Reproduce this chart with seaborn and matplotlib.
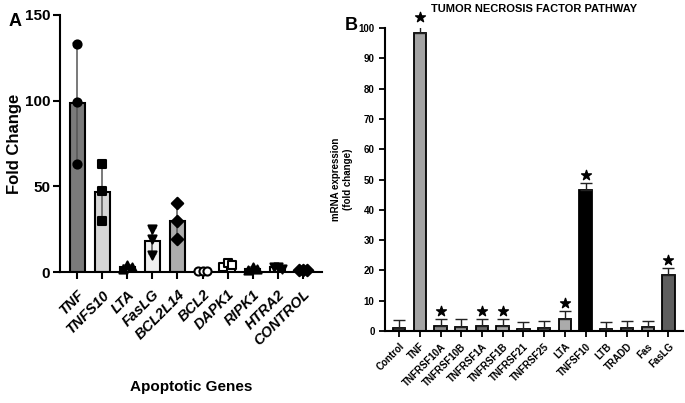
import numpy as np
import pandas as pd
import seaborn as sns
import matplotlib.pyplot as plt

# panel A: apoptotic genes, three replicates each
genes_a = ["TNF", "TNFS10", "LTA", "FasLG", "BCL2L14", "BCL2", "DAPK1", "RIPK1", "HTRA2", "CONTROL"]
reps_a = [
    [133, 99, 63],
    [63, 47, 30],
    [2, 4, 3],
    [25, 19, 10],
    [40, 30, 19],
    [0.8, 0.8, 0.8],
    [3, 5, 4],
    [1, 3, 2],
    [3, 3, 2],
    [1, 1, 1],
]
colors_a = ["#7a7a7a", "#d6d6d6", "#ffffff", "#f0f0f0", "#adadad",
            "#ffffff", "#ffffff", "#ffffff", "#ffffff", "#ffffff"]
markers_a = ["o", "s", "^", "v", "D", "o", "s", "^", "v", "D"]
hollow_a = [False, False, False, False, False, True, True, False, False, False]

# panel B: TNF pathway, mean and upper error
genes_b = ["Control", "TNF", "TNFRSF10A", "TNFRSF10B", "TNFRSF1A", "TNFRSF1B", "TNFRSF21",
           "TNFRSF25", "LTA", "TNFSF10", "LTB", "TRADD", "Fas", "FasLG"]
mean_b = [0.8, 98.5, 1.7, 1.2, 1.7, 1.7, 0.5, 0.8, 4.0, 46.5, 0.5, 0.8, 1.2, 18.5]
err_b = [2.7, 2.5, 2.3, 2.6, 2.3, 2.3, 2.3, 2.4, 2.5, 2.3, 2.3, 2.4, 2.2, 2.3]
signif_b = [False, True, True, False, True, True, False, False, True, True, False, False, False, True]
colors_b = ["#333333", "#a3a3a3", "#8a8a8a", "#9a9a9a", "#6a6a6a", "#a8a8a8", "#555555",
            "#444444", "#ababab", "#000000", "#666666", "#444444", "#8c8c8c", "#5e5e5e"]

sns.set_theme(style="ticks")
plt.rcParams['font.family'] = ['Liberation Sans', 'DejaVu Sans']
plt.rcParams['axes.linewidth'] = 1.5
for key in ['text.color', 'axes.labelcolor', 'xtick.color', 'ytick.color', 'axes.edgecolor']:
    plt.rcParams[key] = 'black'

fig = plt.figure(figsize=(6.85, 4.03), dpi=100)

# ---------- panel A ----------
axa = fig.add_axes([0.0876, 0.325, 0.3824, 0.638])
df_a = pd.DataFrame({
    "gene": np.repeat(genes_a, 3),
    "value": np.concatenate(reps_a),
})
sns.barplot(data=df_a, x="gene", y="value", hue="gene", order=genes_a,
            palette=colors_a, errorbar="sd", capsize=0.3, width=0.6,
            edgecolor="black", linewidth=1.5, err_kws={"color": "#555555", "linewidth": 1.1},
            legend=False, ax=axa)

for i, vals in enumerate(reps_a):
    spread = np.ptp(vals) < 6
    offs = np.array([-0.17, 0.0, 0.17]) if spread else np.zeros(3)
    fc = "white" if hollow_a[i] else "black"
    axa.scatter(i + offs, vals, marker=markers_a[i], s=34, facecolor=fc,
                edgecolor="black", linewidth=1.5, zorder=5, clip_on=False)

axa.set_xlim(-0.68, 9.76)
axa.set_ylim(0, 150)
axa.set_yticks([0, 50, 100, 150])
axa.set_yticklabels(["0", "50", "100", "150"], fontweight="bold", fontsize=11)
axa.set_xticks(range(len(genes_a)))
axa.set_xticklabels(genes_a, rotation=45, ha="right", rotation_mode="anchor",
                    fontstyle="italic", fontweight="bold", fontsize=10.5)
axa.tick_params(axis="both", length=5, width=1.5, direction="out")
axa.tick_params(axis="x", pad=6)
axa.tick_params(axis="y", pad=2)
axa.set_xlabel("Apoptotic Genes", fontsize=11, fontweight="bold")
axa.xaxis.set_label_coords(0.5, -0.42)
axa.set_ylabel("Fold Change", fontsize=12, fontweight="bold")
axa.yaxis.set_label_coords(-0.145, 0.5)
sns.despine(ax=axa)

fig.text(0.012, 0.935, "A", fontsize=13, fontweight="bold")

# ---------- panel B ----------
axb = fig.add_axes([0.562, 0.179, 0.435, 0.751])
df_b = pd.DataFrame({"gene": genes_b, "mean": mean_b})
sns.barplot(data=df_b, x="gene", y="mean", hue="gene", order=genes_b,
            palette=colors_b, width=0.6, edgecolor="black", linewidth=1.3,
            legend=False, ax=axb)
axb.errorbar(range(len(genes_b)), mean_b, yerr=[np.zeros(len(err_b)), err_b],
             fmt="none", ecolor="#222222", elinewidth=1.0, capsize=4, capthick=1.0, zorder=4)

for i, s in enumerate(signif_b):
    if s:
        axb.scatter(i, mean_b[i] + err_b[i] + 2.6, marker="*", s=55,
                    color="black", zorder=6, clip_on=False)

axb.set_xlim(-0.68, 13.7)
axb.set_ylim(0, 100)
axb.set_yticks(range(0, 101, 10))
axb.tick_params(axis="both", length=4, width=1.3, direction="out", labelsize=7)
for lab in axb.get_yticklabels():
    lab.set_fontweight("bold")
axb.set_xticks(range(len(genes_b)))
axb.set_xticklabels(genes_b, rotation=45, ha="right", rotation_mode="anchor",
                    fontweight="bold", fontsize=7)
axb.set_xlabel("")
axb.set_ylabel("mRNA expression\n(fold change)", fontsize=7, fontweight="bold", labelpad=4)
axb.set_title("TUMOR NECROSIS FACTOR PATHWAY", fontsize=8, fontweight="bold", pad=12)
sns.despine(ax=axb)

fig.text(0.503, 0.925, "B", fontsize=13, fontweight="bold")

fig.savefig("out.png", dpi=100)
